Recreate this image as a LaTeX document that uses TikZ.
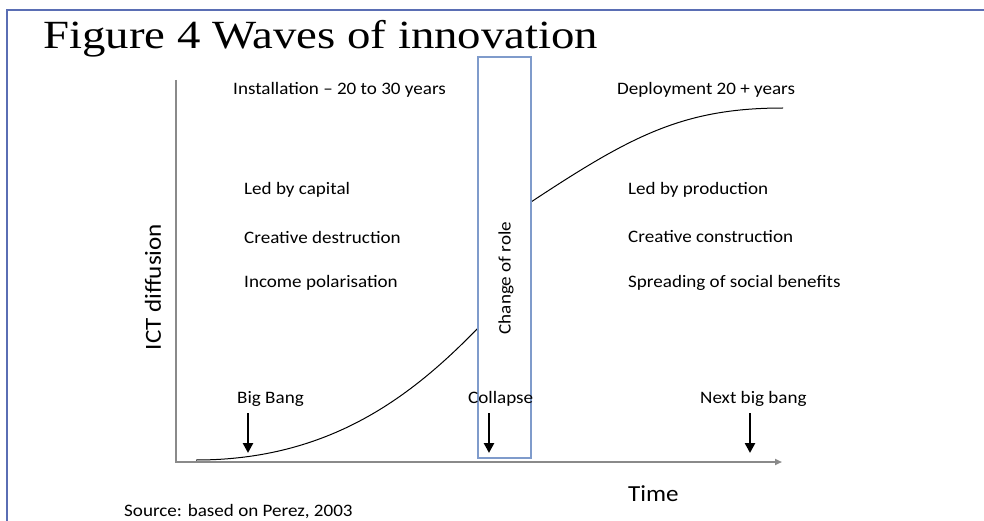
\documentclass[tikz,border=0pt]{standalone}
\usepackage{fontspec}
\setmainfont{Carlito}[FakeStretch=1.09]
\newfontfamily\titlefont{Liberation Serif}[FakeStretch=1.17]
\usetikzlibrary{arrows.meta}
\definecolor{framecol}{HTML}{5A6EB4}
\definecolor{boxcol}{HTML}{7F9BCB}
\definecolor{axiscol}{HTML}{8A8A8A}
\tikzset{
  lbl/.style={inner sep=0pt, anchor=west, font=\fontsize{17.5}{20}\selectfont},
  biglbl/.style={inner sep=0pt, font=\fontsize{23}{26}\selectfont},
  eventarrow/.style={-{Triangle[length=10pt,width=10pt]}, line width=2.6pt, black},
  axisline/.style={draw=axiscol, line width=1.8pt},
  wave/.style={line width=1pt, black},
}
\begin{document}
\begin{tikzpicture}[x=1pt,y=-1pt]
\useasboundingbox (0,0) rectangle (984,521);
\fill[white] (0,0) rectangle (984,521);
% page frame (top and left edges)
\draw[framecol, line width=1.2pt] (7,521) -- (7,10) -- (984,10);
% title
\node[anchor=base west, inner sep=0pt, font=\titlefont\fontsize{40}{44}\selectfont] (title) at (43,49) {Figure 4 Waves of innovation};
% axes
\coordinate (ytop) at (176,80);
\coordinate (origin) at (176,462);
\coordinate (xend) at (782,462);
\draw[axisline, -{Triangle[length=7pt,width=6pt]}] (ytop) -- (origin) -- (xend);
% diffusion curve, interrupted by the change-of-role band
\draw[wave] (196,460) .. controls (330,460) and (412,396) .. (478,328);
\draw[wave] (531,202) .. controls (631,136) and (683,108) .. (783,108);
% change-of-role band
\draw[boxcol, line width=1.2pt] (478,57) rectangle (531,458);
\node[lbl, anchor=center, rotate=90] (role) at (506,278) {Change of role};
% phase headings
\node[lbl] (install) at (233,90) {Installation -- 20 to 30 years};
\node[lbl] (deploy) at (617,90) {Deployment 20 + years};
% installation features
\node[lbl] (l1) at (244,190) {Led by capital};
\node[lbl] (l2) at (244,237) {Creative destruction};
\node[lbl] (l3) at (244,283) {Income polarisation};
% deployment features
\node[lbl] (r1) at (628,190) {Led by production};
\node[lbl] (r2) at (628,237) {Creative construction};
\node[lbl] (r3) at (628,283) {Spreading of social benefits};
% axis labels
\node[biglbl, rotate=90] (ylabel) at (153,287) {ICT diffusion};
\node[biglbl, anchor=west] (xlabel) at (628,494) {Time};
% events
\node[lbl] (bigbang) at (237,399) {Big Bang};
\node[lbl] (collapse) at (468,399) {Collapse};
\node[lbl] (nextbang) at (700,399) {Next big bang};
\coordinate (a1s) at (248,413); \coordinate (a1e) at (248,453);
\coordinate (a2s) at (489,413); \coordinate (a2e) at (489,453);
\coordinate (a3s) at (750,413); \coordinate (a3e) at (750,453);
\draw[eventarrow] (a1s) -- (a1e);
\draw[eventarrow] (a2s) -- (a2e);
\draw[eventarrow] (a3s) -- (a3e);
% source note
\node[lbl] (source) at (124,512) {Source: based on Perez, 2003};
\end{tikzpicture}
\end{document}
